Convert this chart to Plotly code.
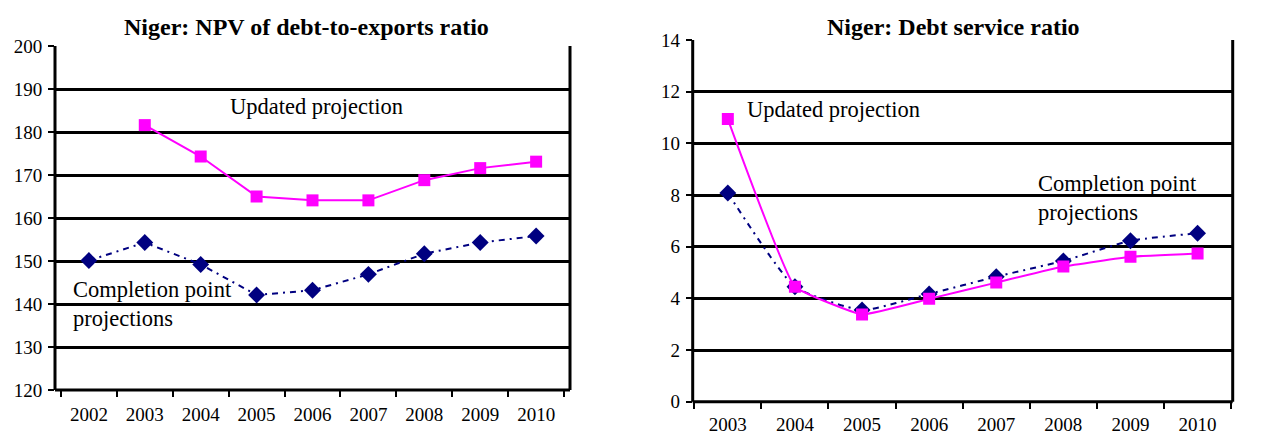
import plotly.graph_objects as go

W, H = 1268, 439

# ---- data ----
years_left = ["2002", "2003", "2004", "2005", "2006", "2007", "2008", "2009", "2010"]
npv_updated = [None, 181.6, 174.3, 165.0, 164.1, 164.1, 168.8, 171.6, 173.1]
npv_completion = [150.1, 154.3, 149.2, 142.1, 143.2, 146.9, 151.7, 154.3, 155.8]

years_right = ["2003", "2004", "2005", "2006", "2007", "2008", "2009", "2010"]
ds_updated = [10.94, 4.45, 3.38, 3.98, 4.61, 5.23, 5.61, 5.74]
ds_completion = [8.08, 4.45, 3.55, 4.17, 4.84, 5.45, 6.23, 6.52]

FONT = "Liberation Serif"
PINK = "#FF00FF"
NAVY = "#000080"


def px_x(x):
    return x / W


def px_y(y):
    return 1 - y / H


fig = go.Figure()

# left chart
fig.add_trace(go.Scatter(x=years_left, y=npv_completion, mode="lines+markers",
                         line=dict(color=NAVY, width=2, dash="6px,5px,2px,5px"),
                         marker=dict(symbol="diamond", size=13, color=NAVY),
                         xaxis="x", yaxis="y", showlegend=False))
fig.add_trace(go.Scatter(x=years_left, y=npv_updated, mode="lines+markers",
                         line=dict(color=PINK, width=2),
                         marker=dict(symbol="square", size=12, color=PINK),
                         xaxis="x", yaxis="y", showlegend=False))

# right chart
fig.add_trace(go.Scatter(x=years_right, y=ds_completion, mode="lines+markers",
                         line=dict(color=NAVY, width=2, dash="6px,5px,2px,5px", shape="spline", smoothing=0.5),
                         marker=dict(symbol="diamond", size=13, color=NAVY),
                         xaxis="x2", yaxis="y3", showlegend=False))
fig.add_trace(go.Scatter(x=years_right, y=ds_updated, mode="lines+markers",
                         line=dict(color=PINK, width=2, shape="spline", smoothing=0.3),
                         marker=dict(symbol="square", size=12, color=PINK),
                         xaxis="x2", yaxis="y3", showlegend=False))

tickfont = dict(family=FONT, size=19, color="black")

xcommon = dict(type="category", tickson="boundaries", ticks="outside", ticklen=6,
               tickwidth=2, tickcolor="black", showline=False,
               showgrid=False, tickfont=tickfont, fixedrange=True, automargin=False)
ycommon = dict(ticks="outside", tickwidth=2, tickcolor="black", showline=False,
               tickfont=tickfont, zeroline=False, fixedrange=True, automargin=False)

L_dom_x = [px_x(55), px_x(570)]
L_dom_y = [px_y(390), px_y(46)]
R_dom_x = [px_x(692.7), px_x(1232.7)]
R_dom_y = [px_y(401.7), px_y(40)]

fig.update_layout(
    template="none",
    width=W, height=H,
    margin=dict(l=0, r=0, t=0, b=0, pad=0),
    paper_bgcolor="white", plot_bgcolor="white",
    font=dict(family=FONT, color="black"),
    xaxis=dict(domain=L_dom_x, anchor="y", ticklabelstandoff=11, **xcommon),
    yaxis=dict(domain=L_dom_y, anchor="x", range=[120, 200], dtick=10, ticklen=6,
               showgrid=True, gridcolor="black", gridwidth=3, ticklabelstandoff=2, **ycommon),
    yaxis2=dict(overlaying="y", anchor="x", side="right", range=[120, 200], dtick=10, ticklen=6,
                showgrid=False, ticklabelstandoff=9, **ycommon),
    xaxis2=dict(domain=R_dom_x, anchor="y3", ticklabelstandoff=9, **xcommon),
    yaxis3=dict(domain=R_dom_y, anchor="x2", range=[0, 14], dtick=2, ticklen=6,
                showgrid=True, gridcolor="black", gridwidth=3, ticklabelstandoff=2, **ycommon),
    yaxis4=dict(overlaying="y3", anchor="x2", side="right", range=[0, 14], dtick=2, ticklen=5,
                showgrid=False, ticklabelstandoff=2, **ycommon),
)

# axis frame lines (left, bottom, right) for both charts
shapes = []
for xr, yr in (("x domain", "y domain"), ("x2 domain", "y3 domain")):
    for x0, y0, x1, y1 in ((0, 0, 0, 1), (0, 0, 1, 0), (1, 0, 1, 1)):
        shapes.append(dict(type="line", xref=xr, yref=yr, x0=x0, y0=y0, x1=x1, y1=y1,
                           line=dict(color="black", width=3), layer="above"))
fig.update_layout(shapes=shapes)

annots = [
    dict(text="<b>Niger: NPV of debt-to-exports ratio</b>", x=px_x(306.5), y=px_y(27),
         xanchor="center", yanchor="middle", font=dict(size=24)),
    dict(text="<b>Niger: Debt service ratio</b>", x=px_x(953.5), y=px_y(27),
         xanchor="center", yanchor="middle", font=dict(size=24)),
    dict(text="Updated projection", x=px_x(228), y=px_y(107),
         xanchor="left", yanchor="middle", font=dict(size=22.5)),
    dict(text="Completion point<br>projections", x=px_x(71), y=px_y(304),
         xanchor="left", yanchor="middle", align="left", font=dict(size=22.5)),
    dict(text="Updated projection", x=px_x(745), y=px_y(110),
         xanchor="left", yanchor="middle", font=dict(size=22.5)),
    dict(text="Completion point<br>projections", x=px_x(1036), y=px_y(198),
         xanchor="left", yanchor="middle", align="left", font=dict(size=22.5)),
]
for a in annots:
    a.update(xref="paper", yref="paper", showarrow=False)
    a["font"].update(family=FONT, color="black")
fig.update_layout(annotations=annots)

fig.write_html("out.html")
